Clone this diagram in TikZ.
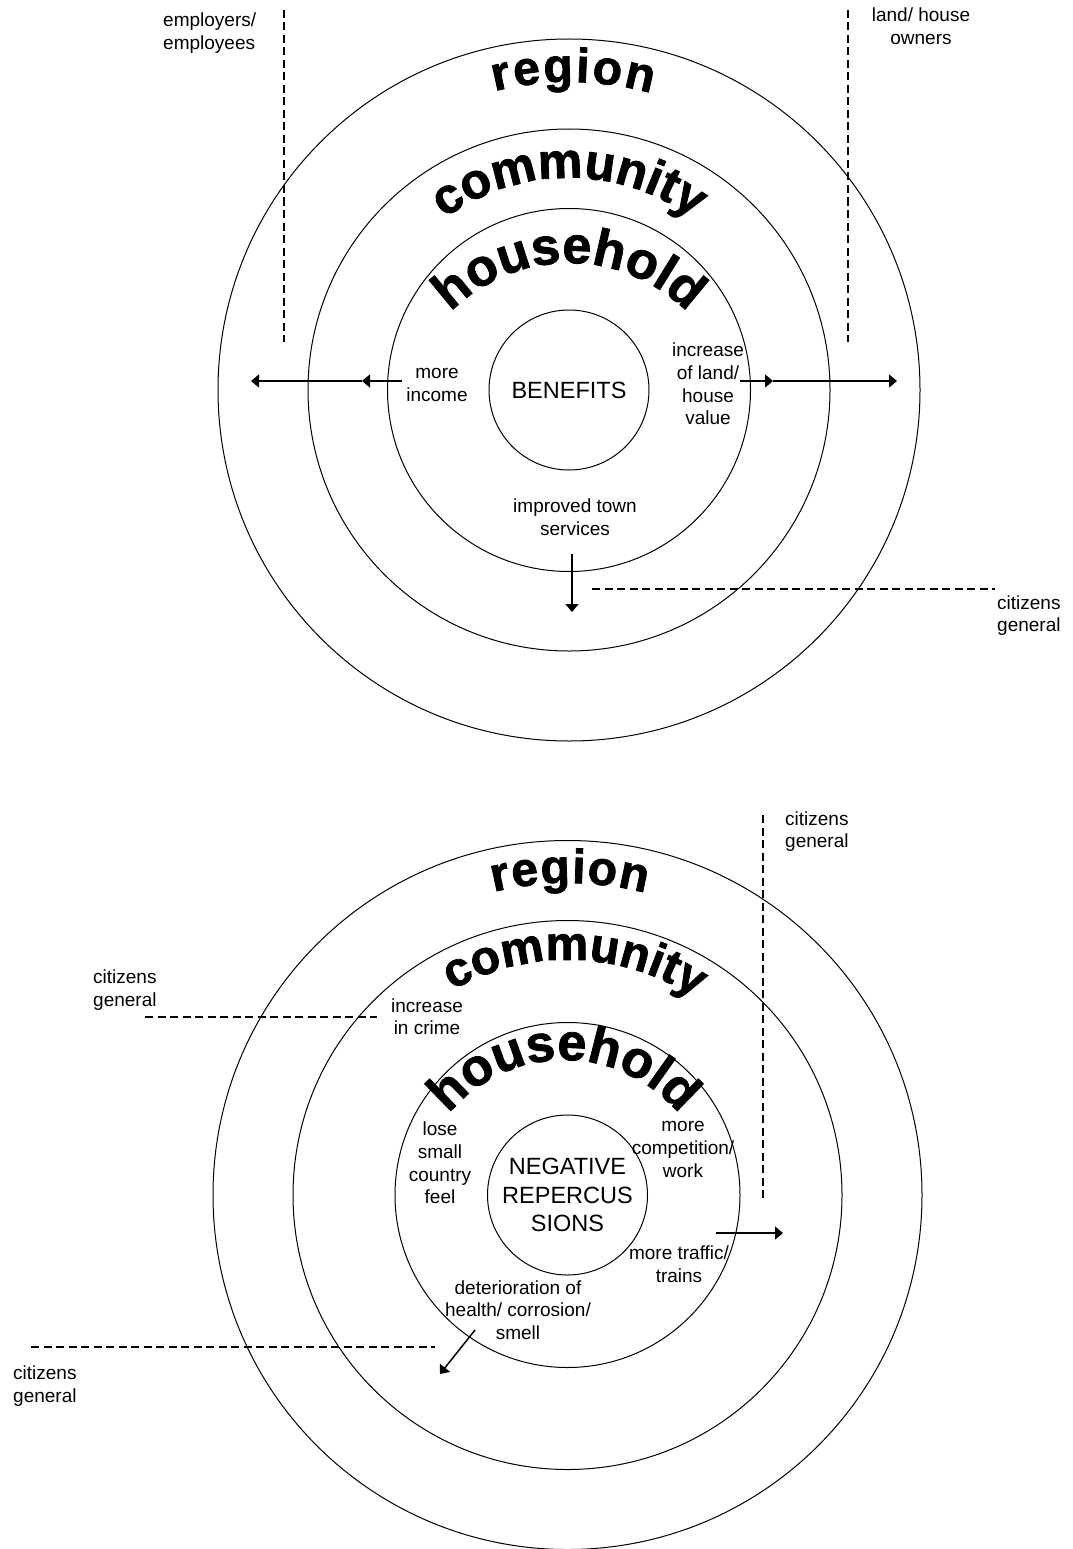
\documentclass[tikz,border=0pt]{standalone}
\usepackage{fontspec}
\setmainfont{Liberation Sans}
\newfontface\heavyface[FakeBold=1.6]{Liberation Sans Bold}
\usetikzlibrary{arrows.meta,decorations.text}

\newcommand{\ringfont}{\fontsize{48}{48}\selectfont\heavyface}
\newcommand{\ringfontmid}{\fontsize{50}{50}\selectfont\heavyface}
\newcommand{\ringfontbig}{\fontsize{52}{52}\selectfont\heavyface}
\newcommand{\txtfont}{\fontsize{19}{22.6}\selectfont}
\newcommand{\corefont}{\fontsize{23.5}{28.5}\selectfont}

\begin{document}
\begin{tikzpicture}[x=1pt,y=1pt,
	ring/.style={draw, circle, line width=1pt, inner sep=0pt, minimum size=#1},
	lbl/.style={align=center, font=\txtfont, inner sep=0pt},
	side/.style={align=left, font=\txtfont, inner sep=0pt, anchor=west},
	guide/.style={line width=1.2pt, dash pattern=on 8pt off 4.5pt},
	push/.style={line width=1.5pt, -{Triangle[length=8pt,width=13pt]}},
	arch/.style={decorate, decoration={text along path, text align=center, text={#1}}},
	archfit/.style={decorate, decoration={text along path, text align=fit to path, text={#1}}}]
	\useasboundingbox (0,0) rectangle (1072,-1549);

	% benefits
	\node[ring=702] (region1) at (569,-390) {};
	\node[ring=522] (community1) at (569,-390) {};
	\node[ring=363] (household1) at (569,-390) {};
	\node[ring=160, font=\corefont] (benefits) at (569,-390) {BENEFITS};

	\path[archfit={|\ringfont|region}] ([shift={(569,-390)}]104:308) arc[start angle=104, end angle=74.5, radius=308];
	\path[arch={|\ringfontmid|community}] ([shift={(569,-390)}]160:212) arc[start angle=160, end angle=20, radius=212];
	\path[arch={|\ringfontbig|household}] ([shift={(569,-430)}]170:167) arc[start angle=170, end angle=10, radius=167];

	\node[side] (employers) at (163,-33) {employers/\\employees};
	\coordinate (employtop) at (284,-10);
	\coordinate (employbot) at (284,-342);
	\draw[guide] (employtop) -- (employbot);

	\node[lbl] (owners) at (921,-26) {land/ house\\owners};
	\coordinate (ownertop) at (848,-10);
	\coordinate (ownerbot) at (848,-342);
	\draw[guide] (ownertop) -- (ownerbot);

	\node[side] (citizensa) at (997,-615.5) {citizens\\general};
	\coordinate (citizensaleft) at (592,-589);
	\coordinate (citizensaright) at (995,-589);
	\draw[guide] (citizensaleft) -- (citizensaright);

	\node[lbl] (income) at (437,-385) {more\\income};
	\coordinate (incomeout) at (402,-381);
	\coordinate (incomemid) at (362,-381);
	\coordinate (incomeend) at (251,-381);
	\draw[push] (incomeout) -- (incomemid);
	\draw[push] (incomemid) -- (incomeend);

	\node[lbl] (landvalue) at (708,-384) {increase\\of land/\\house\\value};
	\coordinate (landout) at (740,-381);
	\coordinate (landmid) at (773,-381);
	\coordinate (landend) at (897,-381);
	\draw[push] (landout) -- (landmid);
	\draw[push] (landmid) -- (landend);

	\node[lbl] (services) at (575,-517) {improved town\\services};
	\coordinate (servicesout) at (572,-554);
	\coordinate (servicesend) at (572,-612);
	\draw[push] (servicesout) -- (servicesend);

	% negative repercussions
	\node[ring=709] (region2) at (567.5,-1195) {};
	\node[ring=549] (community2) at (567.5,-1195) {};
	\node[ring=345] (household2) at (567.5,-1195) {};
	\node[ring=160, font=\corefont, align=center] (negative) at (567.5,-1195) {NEGATIVE\\REPERCUS\\SIONS};

	\path[archfit={|\ringfont|region}] ([shift={(567.5,-1195)}]103.7:312) arc[start angle=103.7, end angle=75.5, radius=312];
	\path[arch={|\ringfont|community}] ([shift={(567.5,-1195)}]168.2:235) arc[start angle=168.2, end angle=8.2, radius=235];
	\path[arch={|\ringfontbig|household}] ([shift={(564,-1210)}]170:150) arc[start angle=170, end angle=10, radius=150];

	\node[side] (citizensb) at (785,-831.5) {citizens\\general};
	\coordinate (citizensbtop) at (763,-815);
	\coordinate (citizensbbot) at (763,-1199);
	\draw[guide] (citizensbtop) -- (citizensbbot);

	\node[lbl] (competition) at (683,-1149.5) {more\\competition/\\work};
	\node[lbl] (traffic) at (679,-1264) {more traffic/\\trains};
	\coordinate (trafficout) at (716,-1233);
	\coordinate (trafficend) at (783,-1233);
	\draw[push] (trafficout) -- (trafficend);

	\node[lbl] (crime) at (427,-1016.5) {increase\\in crime};
	\node[side] (citizensc) at (93,-990) {citizens\\general};
	\coordinate (citizenscleft) at (145,-1017);
	\coordinate (citizenscright) at (377,-1017);
	\draw[guide] (citizenscleft) -- (citizenscright);

	\node[lbl] (feel) at (440,-1163) {lose\\small\\country\\feel};

	\node[lbl] (health) at (518,-1310) {deterioration of\\health/ corrosion/\\smell};
	\coordinate (healthout) at (475,-1330);
	\coordinate (healthend) at (440,-1374);
	\draw[push] (healthout) -- (healthend);

	\node[side] (citizensd) at (13,-1386) {citizens\\general};
	\coordinate (citizensdleft) at (31,-1347);
	\coordinate (citizensdright) at (435,-1347);
	\draw[guide] (citizensdleft) -- (citizensdright);
\end{tikzpicture}
\end{document}
